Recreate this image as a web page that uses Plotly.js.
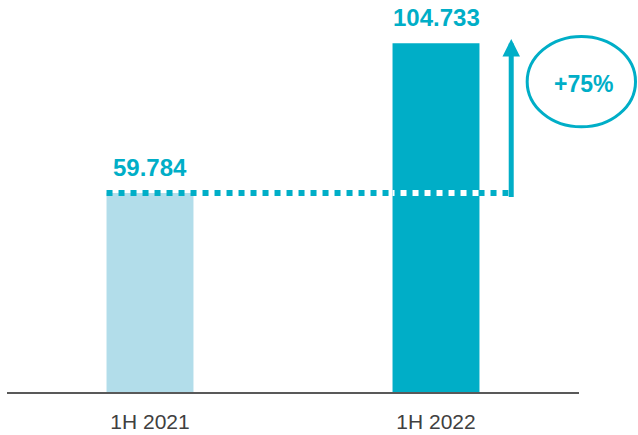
<!DOCTYPE html>
<html>
<head>
<meta charset="utf-8">
<script src="https://cdn.plot.ly/plotly-3.0.1.min.js"></script>
<style>html,body{margin:0;padding:0;background:#fff;}#chart{width:638px;height:435px;}</style>
</head>
<body>
<div id="chart"></div>
<script>
const categories = ['1H 2021', '1H 2022'];
const values = [59.784, 104.733];
const barColors = ['#B2DDEA', '#00AEC7'];

const teal = '#00AEC7';
const font = 'Liberation Sans, Arial, sans-serif';
const barWidth = 0.304;
const arrowX = 1.263;
const growth = Math.round((values[1] / values[0] - 1) * 100);

const trace = {
  type: 'bar',
  x: categories,
  y: values,
  width: barWidth,
  marker: {color: barColors},
  hoverinfo: 'none'
};

const annotations = values.map((v, i) => ({
  x: categories[i], y: v, xref: 'x', yref: 'y',
  text: '<b>' + v.toFixed(3) + '</b>',
  showarrow: false, yanchor: 'bottom', yshift: 10,
  font: {family: font, size: 24, color: teal}
}));

annotations.push({
  x: arrowX, y: values[1] + 1.3, xref: 'x', yref: 'y',
  ax: arrowX, ay: values[0] - 1.7, axref: 'x', ayref: 'y',
  text: '', showarrow: true, arrowhead: 2, arrowsize: 0.7, arrowwidth: 5,
  arrowcolor: teal
});

annotations.push({
  x: 1.0087, y: 0.7857, xref: 'paper', yref: 'paper',
  text: '<b>+' + growth + '%</b>', showarrow: false,
  xanchor: 'center', yanchor: 'middle',
  font: {family: font, size: 23, color: teal}
});

const shapes = [
  {
    type: 'line', xref: 'x', yref: 'y',
    x0: 1 - barWidth / 2, x1: 1 + barWidth / 2, y0: values[0], y1: values[0],
    line: {color: '#ffffff', width: 6}
  },
  {
    type: 'line', xref: 'x', yref: 'y',
    x0: -barWidth / 2, x1: arrowX - 0.01, y0: values[0], y1: values[0],
    line: {color: teal, width: 6, dash: '6px,6px'}
  },
  {
    type: 'circle', xref: 'paper', yref: 'paper',
    x0: 0.9094, x1: 1.0988, y0: 0.6765, y1: 0.9069,
    line: {color: teal, width: 3}
  }
];

const layout = {
  width: 638, height: 435,
  margin: {l: 7, r: 59, t: 0, b: 43},
  paper_bgcolor: '#fff', plot_bgcolor: '#fff',
  showlegend: false,
  xaxis: {
    type: 'category', range: [-0.5, 1.5],
    showline: true, linecolor: '#595959', linewidth: 2,
    ticks: '', showgrid: false, zeroline: false,
    ticklabelstandoff: 10,
    tickfont: {family: font, size: 21, color: '#404040'}
  },
  yaxis: {
    range: [0, 117.74], visible: false, showgrid: false, zeroline: false
  },
  annotations: annotations,
  shapes: shapes
};

Plotly.newPlot('chart', [trace], layout, {displayModeBar: false, staticPlot: true});
</script>
</body>
</html>
